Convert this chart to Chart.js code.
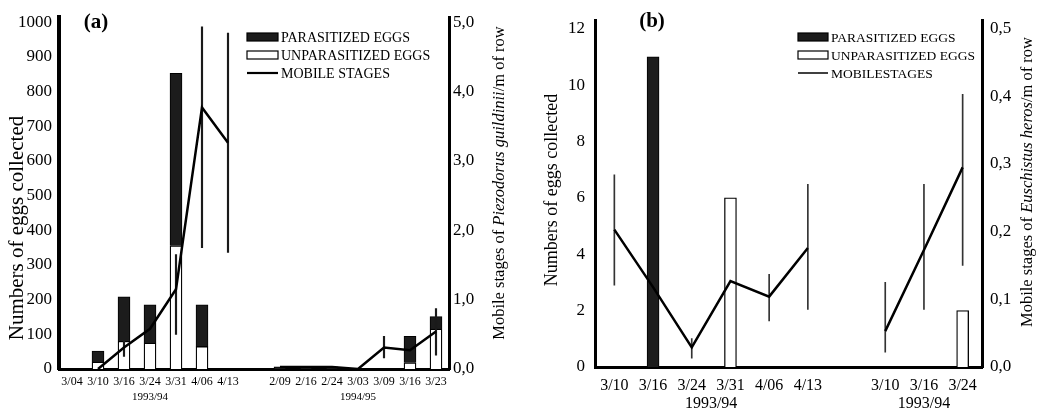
<!DOCTYPE html>
<html>
<head>
<meta charset="utf-8">
<script src="https://cdn.jsdelivr.net/npm/chart.js@4.4.1/dist/chart.umd.min.js"></script>
<style>
  html, body { margin: 0; padding: 0; background: #fff; }
  #wrap { position: relative; width: 1053px; height: 412px; }
  canvas { position: absolute; top: 0; }
</style>
</head>
<body>
<div id="wrap">
  <canvas id="chartA" width="520" height="412" style="left:0px"></canvas>
  <canvas id="chartB" width="533" height="412" style="left:520px"></canvas>
</div>
<script>
// ---- panel (a): Piezodorus guildinii ----
const datesA = ['3/04', '3/10', '3/16', '3/24', '3/31', '4/06', '4/13', '', '2/09', '2/16', '2/24', '3/03', '3/09', '3/16', '3/23'];
const unparasitizedA = [null, 20, 80, 75, 355, 65, null, null, null, null, null, null, null, 18, 115];
const parasitizedA = [null, 32, 128, 110, 497, 120, null, null, 6, 6, 6, null, null, 76, 36];
const mobileA = [null, 0, 0.31, 0.58, 1.15, 3.77, 3.26, null, 0.03, 0.03, 0.03, 0, 0.31, 0.27, 0.54];
const errLowA = [null, null, 0.18, 0.42, 0.5, 1.75, 1.68, null, null, null, null, null, 0.16, null, 0.2];
const errHighA = [null, null, 0.4, 0.74, 1.65, 4.93, 4.84, null, null, null, null, null, 0.47, null, 0.87];
const eggTicksA = [0, 100, 200, 300, 400, 500, 600, 700, 800, 900, 1000];
const mobileTicksA = [0, 1, 2, 3, 4, 5];
const seasonsA = [{ text: '1993/94', at: 3 }, { text: '1994/95', at: 11 }];

// ---- panel (b): Euschistus heros ----
const datesB = ['3/10', '3/16', '3/24', '3/31', '4/06', '4/13', '', '3/10', '3/16', '3/24'];
const unparasitizedB = [null, null, null, 6, null, null, null, null, null, 2];
const parasitizedB = [null, 11, null, null, null, null, null, null, null, null];
const mobileB = [0.203, 0.118, 0.029, 0.127, 0.104, 0.176, null, 0.053, 0.173, 0.295];
const errLowB = [0.121, null, 0.013, null, 0.068, 0.085, null, 0.022, 0.085, 0.15];
const errHighB = [0.284, null, 0.042, null, 0.137, 0.27, null, 0.125, 0.27, 0.403];
const eggTicksB = [0, 2, 4, 6, 8, 10, 12];
const mobileTicksB = [0, 0.1, 0.2, 0.3, 0.4, 0.5];
const seasonsB = [{ text: '1993/94', at: 2.5 }, { text: '1993/94', at: 8 }];

const SERIF = "'Liberation Serif', 'Times New Roman', serif";
const comma = v => v.toFixed(1).replace('.', ',');
const pairs = (lo, hi) => lo.map((l, i) => (l === null ? null : [l, hi[i]]));

// draws panel letter, season labels, rotated axis titles and the legend box
const extras = {
  id: 'extras',
  afterDraw(chart, args, o) {
    const ctx = chart.ctx;
    ctx.save();
    ctx.fillStyle = '#000';
    ctx.textBaseline = 'middle';
    ctx.textAlign = 'center';

    ctx.font = 'bold ' + o.letter.size + 'px ' + SERIF;
    ctx.fillText(o.letter.text, o.letter.x, o.letter.y);

    const xs = chart.scales.x;
    ctx.font = o.seasonSize + 'px ' + SERIF;
    o.seasons.forEach(s => ctx.fillText(s.text, xs.getPixelForValue(s.at), o.seasonY));

    o.titles.forEach(t => {
      ctx.save();
      ctx.translate(t.x, t.y);
      ctx.rotate(-Math.PI / 2);
      ctx.textAlign = 'left';
      let total = 0;
      t.parts.forEach(p => {
        ctx.font = (p.italic ? 'italic ' : '') + t.size + 'px ' + SERIF;
        total += ctx.measureText(p.text).width;
      });
      let cx = -total / 2;
      t.parts.forEach(p => {
        ctx.font = (p.italic ? 'italic ' : '') + t.size + 'px ' + SERIF;
        ctx.fillText(p.text, cx, 0);
        cx += ctx.measureText(p.text).width;
      });
      ctx.restore();
    });

    const lg = o.legend;
    ctx.textAlign = 'left';
    ctx.font = lg.size + 'px ' + SERIF;
    lg.rows.forEach((r, i) => {
      const y = lg.y + i * lg.step;
      const ds = chart.data.datasets[r.ds];
      if (r.kind === 'line') {
        ctx.strokeStyle = ds.borderColor;
        ctx.lineWidth = lg.lineW;
        ctx.beginPath();
        ctx.moveTo(lg.x, y);
        ctx.lineTo(lg.x + lg.w, y);
        ctx.stroke();
      } else {
        ctx.fillStyle = ds.backgroundColor;
        ctx.fillRect(lg.x, y - 4, lg.w, 8);
        ctx.strokeStyle = '#000';
        ctx.lineWidth = 1.2;
        ctx.strokeRect(lg.x, y - 4, lg.w, 8);
      }
      ctx.fillStyle = '#000';
      ctx.fillText(r.text, lg.x + lg.w + 3, y + 1);
    });
    ctx.restore();
  }
};

function makeChart(id, cfg) {
  return new Chart(document.getElementById(id), {
    type: 'bar',
    data: {
      labels: cfg.labels,
      datasets: [
        { type: 'line', label: 'MOBILE STAGES', data: cfg.mobile, yAxisID: 'y1', order: 0,
          borderColor: '#000', borderWidth: 2.5, pointRadius: 0, tension: 0, spanGaps: false },
        { label: 'error', data: pairs(cfg.errLow, cfg.errHigh), yAxisID: 'y1', order: 0,
          backgroundColor: cfg.errColor, barThickness: cfg.errW, grouped: false },
        { label: 'UNPARASITIZED EGGS', data: cfg.unpar, yAxisID: 'y', order: 1, stack: 'eggs',
          backgroundColor: '#ffffff', borderColor: '#000', borderWidth: 1.3, borderSkipped: 'bottom',
          barThickness: cfg.barW },
        { label: 'PARASITIZED EGGS', data: cfg.par, yAxisID: 'y', order: 1, stack: 'eggs',
          backgroundColor: '#1c1c1c', borderColor: '#000', borderWidth: 1, barThickness: cfg.barW }
      ]
    },
    options: {
      responsive: false,
      animation: false,
      layout: { padding: { top: cfg.top, left: 0, right: 0, bottom: 0 } },
      scales: {
        x: {
          stacked: true,
          grid: { display: false, drawTicks: false },
          border: { display: true, width: 3, color: '#000' },
          ticks: { autoSkip: false, maxRotation: 0, color: '#000', padding: cfg.xPad,
                   font: { family: SERIF, size: cfg.xSize } },
          afterFit: s => { s.height = cfg.xHeight; }
        },
        y: {
          position: 'left', stacked: true, min: 0, max: cfg.yMax,
          grid: { display: false, drawTicks: false },
          border: { display: true, width: cfg.leftW, color: '#000' },
          ticks: { color: '#000', padding: cfg.yPad, font: { family: SERIF, size: 17 },
                   callback: v => String(v) },
          afterBuildTicks: s => { s.ticks = cfg.yTicks.map(v => ({ value: v })); },
          afterFit: s => { s.width = cfg.leftWidth; }
        },
        y1: {
          position: 'right', min: 0, max: cfg.y1Max,
          grid: { display: false, drawTicks: false },
          border: { display: true, width: 3, color: '#000' },
          ticks: { color: '#000', padding: cfg.y1Pad, font: { family: SERIF, size: 17 },
                   callback: v => comma(v) },
          afterBuildTicks: s => { s.ticks = cfg.y1Ticks.map(v => ({ value: v })); },
          afterFit: s => { s.width = cfg.rightWidth; }
        }
      },
      plugins: {
        legend: { display: false },
        tooltip: { enabled: false },
        extras: cfg.extras
      }
    },
    plugins: [extras]
  });
}

makeChart('chartA', {
  labels: datesA, unpar: unparasitizedA, par: parasitizedA, mobile: mobileA,
  errLow: errLowA, errHigh: errHighA, barW: 12, errW: 1.5, errColor: '#1a1a1a',
  yTicks: eggTicksA, y1Ticks: mobileTicksA,
  top: 13, xHeight: 43, xPad: 6, xSize: 12, leftWidth: 59, rightWidth: 71, leftW: 4,
  yMax: 1014, yPad: 7, y1Max: 5.07, y1Pad: 4,
  extras: {
    letter: { text: '(a)', x: 96, y: 23, size: 21 },
    seasons: seasonsA, seasonY: 397, seasonSize: 11,
    titles: [
      { x: 17, y: 228, size: 21, parts: [{ text: 'Numbers of eggs collected' }] },
      { x: 500, y: 183, size: 16.5, parts: [{ text: 'Mobile stages of ' },
        { text: 'Piezodorus guildinii', italic: true }, { text: '/m of row' }] }
    ],
    legend: { x: 247, y: 37, step: 18, w: 31, size: 14, lineW: 2.2, rows: [
      { ds: 3, kind: 'box', text: 'PARASITIZED EGGS' },
      { ds: 2, kind: 'box', text: 'UNPARASITIZED EGGS' },
      { ds: 0, kind: 'line', text: 'MOBILE STAGES' }
    ] }
  }
});

makeChart('chartB', {
  labels: datesB, unpar: unparasitizedB, par: parasitizedB, mobile: mobileB,
  errLow: errLowB, errHigh: errHighB, barW: 12, errW: 1, errColor: '#333',
  yTicks: eggTicksB, y1Ticks: mobileTicksB,
  top: 11, xHeight: 45, xPad: 9, xSize: 16, leftWidth: 75, rightWidth: 71, leftW: 3,
  yMax: 12.3, yPad: 10, y1Max: 0.5125, y1Pad: 8,
  extras: {
    letter: { text: '(b)', x: 132, y: 22, size: 21 },
    seasons: seasonsB, seasonY: 404, seasonSize: 16,
    titles: [
      { x: 32, y: 190, size: 18, parts: [{ text: 'Numbers of eggs collected' }] },
      { x: 508, y: 182, size: 16.5, parts: [{ text: 'Mobile stages of ' },
        { text: 'Euschistus heros', italic: true }, { text: '/m of row' }] }
    ],
    legend: { x: 278, y: 37, step: 18, w: 30, size: 13.5, lineW: 1.5, rows: [
      { ds: 3, kind: 'box', text: 'PARASITIZED EGGS' },
      { ds: 2, kind: 'box', text: 'UNPARASITIZED EGGS' },
      { ds: 0, kind: 'line', text: 'MOBILESTAGES' }
    ] }
  }
});
</script>
</body>
</html>
